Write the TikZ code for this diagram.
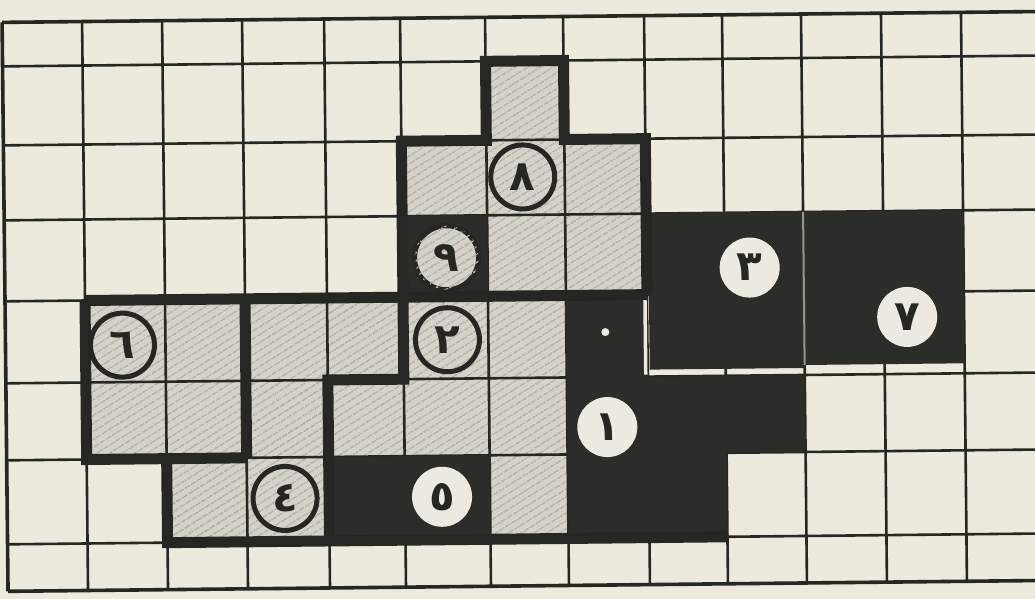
\documentclass[tikz,border=0pt]{standalone}
\usepackage{fontspec}
\newfontfamily\arabicfont[Script=Arabic]{DejaVu Sans}
\TeXXeTstate=1
\usetikzlibrary{patterns.meta}
\definecolor{paper}{RGB}{238,233,221}
\definecolor{hatchbase}{RGB}{212,210,201}
\definecolor{hatchline}{RGB}{178,175,167}
\definecolor{ink}{RGB}{38,38,34}
\definecolor{solidfill}{RGB}{44,45,40}
\definecolor{discfill}{RGB}{236,233,224}
\definecolor{seam}{RGB}{150,148,140}
\def\XS{{5,85,165,245,327,403,488,566,647,725,804,884,964,1044}}
\def\YS{{17,61,140,215,296,378,455,539,586}}
\newcommand{\hcell}[2]{%
  \pgfmathtruncatemacro\cn{#1+1}\pgfmathtruncatemacro\rn{#2+1}%
  \path[hatch] (g#1-#2) -- (g\cn-#2) -- (g\cn-\rn) -- (g#1-\rn) -- cycle;}
\newcommand{\dnum}[1]{{\arabicfont\bfseries\fontsize{42}{42}\selectfont\beginR #1\endR}}
\begin{document}
\begin{tikzpicture}[x=1pt,y=-1pt,
  hatch/.style={fill=hatchbase,postaction={pattern={Lines[angle=32,distance=6.5pt,line width=1.6pt]},pattern color=hatchline}},
  gridline/.style={draw=ink,line width=2.6pt},
  borderline/.style={draw=ink,line width=3.6pt},
  boldedge/.style={draw=ink,line width=11pt,line cap=square,line join=miter},
  blackpiece/.style={fill=solidfill},
  ringnum/.style={circle,draw=ink,line width=5pt,minimum size=64pt,inner sep=0pt,text=ink},
  discnum/.style={circle,fill=discfill,minimum size=60pt,inner sep=0pt,text=ink},
]
\useasboundingbox (0,0) rectangle (1035,599);
\fill[paper] (0,0) rectangle (1035,599);
\clip (0,0) rectangle (1035,599);
\begin{scope}[rotate around={0.6:(517,300)}]
\foreach \c in {0,...,13}{\foreach \r in {0,...,8}{%
  \pgfmathsetmacro\xx{\XS[\c]}\pgfmathsetmacro\yy{\YS[\r]}%
  \coordinate (g\c-\r) at (\xx,\yy);}}
% hatched cells
\foreach \c/\r in {6/1,5/2,6/2,7/2,6/3,7/3,1/4,2/4,3/4,4/4,5/4,6/4,1/5,2/5,3/5,4/5,5/5,6/5,2/6,3/6,6/6}{\hcell{\c}{\r}}
% grid
\foreach \c in {1,...,12}{\draw[gridline] (g\c-0) -- (g\c-8);}
\foreach \r in {1,...,7}{\draw[gridline] (g0-\r) -- (g13-\r);}
\draw[borderline] (g0-0) -- (g13-0);
\draw[borderline] (g0-8) -- (g13-8);
\draw[borderline] (g0-0) -- (g0-8);
% solid pieces
\coordinate (s3a) at (649,215);
\coordinate (s3b) at (649,371);
\coordinate (s3c) at (804,371);
\coordinate (s7a) at (964,368);
\coordinate (s7b) at (804,368);
\path[blackpiece] (g5-3) -- (g6-3) -- (g6-4) -- (g5-4) -- cycle;
\path[blackpiece] (s3a) -- (g10-3) -- (s3c) -- (s3b) -- cycle;
\path[blackpiece] (g10-3) -- (g12-3) -- (s7a) -- (s7b) -- cycle;
\path[blackpiece] (g4-6) -- (g6-6) -- (g6-7) -- (g4-7) -- cycle;
\path[blackpiece] (g7-4) -- (g8-4) -- (g8-5) -- (g10-5) -- (g10-6) -- (g9-6) -- (g9-7) -- (g7-7) -- cycle;
% seams between solid pieces
\coordinate (m1) at (645,300);
\coordinate (m2) at (645,376);
\draw[paper,line width=3.5pt] (m1) -- (m2);
\draw[seam,line width=2pt] (g10-3) -- (s7b);
% bold piece outlines
\draw[boldedge] (g5-4) -- (g5-2) -- (g6-2) -- (g6-1) -- (g7-1) -- (g7-2) -- (g8-2) -- (g8-4);
\draw[boldedge] (g1-4) -- (g8-4);
\draw[boldedge] (g1-4) -- (g1-6) -- (g3-6);
\draw[boldedge] (g3-4) -- (g3-6);
\draw[boldedge] (g2-6) -- (g2-7) -- (g9-7);
\draw[boldedge] (g5-4) -- (g5-5) -- (g4-5) -- (g4-7);
% numbered circles
\node[ringnum] (n8) at (524,177) {\dnum{٨}};
\node[ringnum,hatch] (n9) at (447,257) {\dnum{٩}};
\node[ringnum] (n2) at (447,339) {\dnum{٢}};
\node[ringnum] (n6) at (122,341) {\dnum{٦}};
\node[ringnum] (n4) at (283,496) {\dnum{٤}};
\node[discnum] (n1) at (606,428) {\dnum{١}};
\node[discnum] (n5) at (440,496) {\dnum{٥}};
\node[discnum] (n3) at (750,270) {\dnum{٣}};
\node[discnum] (n7) at (907,321) {\dnum{٧}};
\node[circle,fill=discfill,minimum size=8pt,inner sep=0pt] (dot) at (605,333) {};
\end{scope}
\end{tikzpicture}
\end{document}
